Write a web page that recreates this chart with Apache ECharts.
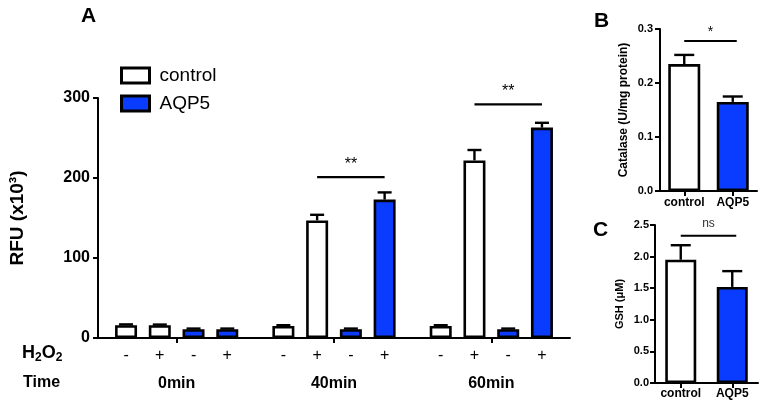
<!DOCTYPE html>
<html>
<head>
<meta charset="utf-8">
<script src="https://cdn.jsdelivr.net/npm/echarts@6/dist/echarts.min.js"></script>
<style>html,body{margin:0;padding:0;background:#fff;}#c{width:763px;height:406px;}</style>
</head>
<body>
<div id="c"></div>
<script>
// ---------- data ----------
const timeCats = ['0min', '40min', '60min'];
const h2o2Signs = ['-', '+', '-', '+'];
const ctrlMinus = [16, 15, 15];
const ctrlMinusErr = [1, 1, 1];
const ctrlPlus = [16, 147, 222];
const ctrlPlusErr = [0.8, 7, 13];
const aqpMinus = [11, 11, 11];
const aqpMinusErr = [0.8, 0.8, 0.8];
const aqpPlus = [11, 173, 263];
const aqpPlusErr = [0.8, 9, 6];
const rfuTicks = [0, 100, 200, 300];

const groupCats = ['control', 'AQP5'];
const catalase = [0.235, 0.165];
const catalaseErr = [0.017, 0.010];
const gsh = [1.95, 1.52];
const gshErr = [0.23, 0.25];

const sigA = [[1, 201, 1, 3, '**'], [2, 292, 1, 3, '**']];
const sigB = [[0, 0.278, 1, '*']];
const sigC = [[0, 2.33, 1, 'ns']];

// ---------- style ----------
const FONT = 'Liberation Sans, Arial, sans-serif';
const BLUE = '#0a3cff';
const BW_A = 22, STEP = 33.75;
const BORDER = 2.6;

const chart = echarts.init(document.getElementById('c'));

function axisCommon() {
  return {
    axisLine: {show: true, lineStyle: {color: '#000', width: 2}},
    axisTick: {show: true, length: 5, lineStyle: {color: '#000', width: 2}},
    splitLine: {show: false}
  };
}

function barSeries(name, data, color, xi, yi, bw, gap) {
  return {
    type: 'bar', name: name, data: data, xAxisIndex: xi, yAxisIndex: yi,
    barWidth: bw, barGap: gap,
    itemStyle: {color: color, borderColor: '#000', borderWidth: BORDER},
    emphasis: {disabled: true}, silent: true
  };
}

// error bar data: [cat, value, err, barIdx]
const errA = [];
[[ctrlMinus, ctrlMinusErr], [ctrlPlus, ctrlPlusErr], [aqpMinus, aqpMinusErr], [aqpPlus, aqpPlusErr]].forEach((p, bi) => {
  p[0].forEach((v, ci) => errA.push([ci, v, p[1][ci], bi]));
});
const errB = catalase.map((v, i) => [i, v, catalaseErr[i], 1.5]);
const errC = gsh.map((v, i) => [i, v, gshErr[i], 1.5]);

function errSeries(data, xi, yi, capHalf) {
  return {
    type: 'custom', xAxisIndex: xi, yAxisIndex: yi, data: data, clip: false, z: 5, silent: true,
    renderItem: function (params, api) {
      const c = api.coord([api.value(0), api.value(1)]);
      const t = api.coord([api.value(0), api.value(1) + api.value(2)]);
      const x = c[0] + (api.value(3) - 1.5) * STEP;
      const st = {stroke: '#000', lineWidth: 2.4};
      return {type: 'group', children: [
        {type: 'line', shape: {x1: x, y1: c[1], x2: x, y2: t[1]}, style: st},
        {type: 'line', shape: {x1: x - capHalf, y1: t[1], x2: x + capHalf, y2: t[1]}, style: st}
      ]};
    }
  };
}

function sigSeriesA(data) {
  return {
    type: 'custom', xAxisIndex: 0, yAxisIndex: 0, data: data.map(d => d.slice(0, 4)), clip: false, z: 6, silent: true,
    renderItem: function (params, api) {
      const c = api.coord([api.value(0), api.value(1)]);
      const x1 = c[0] + (api.value(2) - 1.5) * STEP;
      const x2 = c[0] + (api.value(3) - 1.5) * STEP;
      return {type: 'group', children: [
        {type: 'line', shape: {x1: x1, y1: c[1], x2: x2, y2: c[1]}, style: {stroke: '#000', lineWidth: 2.2}},
        {type: 'text', x: (x1 + x2) / 2, y: c[1] - 13, style: {text: data[params.dataIndex][4], font: '16px ' + FONT, fill: '#000', align: 'center', verticalAlign: 'middle'}}
      ]};
    }
  };
}
function sigSeriesBC(data, xi, yi, fs, dy, col) {
  return {
    type: 'custom', xAxisIndex: xi, yAxisIndex: yi, data: data.map(d => d.slice(0, 3)), clip: false, z: 6, silent: true,
    renderItem: function (params, api) {
      const a = api.coord([api.value(0), api.value(1)]);
      const b = api.coord([api.value(2), api.value(1)]);
      return {type: 'group', children: [
        {type: 'line', shape: {x1: a[0], y1: a[1], x2: b[0] + 4, y2: a[1]}, style: {stroke: '#000', lineWidth: 2}},
        {type: 'text', x: (a[0] + b[0]) / 2 + 2, y: a[1] - dy, style: {text: data[params.dataIndex][3], font: fs + 'px ' + FONT, fill: col, align: 'center', verticalAlign: 'middle'}}
      ]};
    }
  };
}

const option = {
  animation: false,
  textStyle: {fontFamily: FONT},
  grid: [
    {left: 93, top: 98, width: 477, height: 240},
    {left: 660, top: 29, width: 97, height: 162},
    {left: 655, top: 225, width: 103, height: 158}
  ],
  legend: {
    orient: 'vertical', left: 115, top: 61, itemGap: 9,
    itemWidth: 28, itemHeight: 15, icon: 'rect',
    data: ['control', 'AQP5'],
    itemStyle: {borderColor: '#000', borderWidth: 3},
    textStyle: {fontSize: 19, color: '#000', fontFamily: FONT, padding: [0, 0, 0, 5]},
    selectedMode: false
  },
  xAxis: [
    Object.assign(axisCommon(), {
      type: 'category', gridIndex: 0, data: timeCats,
      axisTick: {show: true, alignWithLabel: true, length: 5, lineStyle: {color: '#000', width: 2}},
      axisLabel: {
        interval: 0, margin: 4, color: '#000',
        formatter: function (v) {
          return h2o2Signs.map(s => '{s|' + s + '}').join('') + '\n{t|' + v + '}';
        },
        rich: {
          s: {width: STEP, align: 'center', fontSize: 16, lineHeight: 28, color: '#000', fontFamily: FONT},
          t: {fontSize: 16, fontWeight: 'bold', lineHeight: 28, color: '#000', fontFamily: FONT}
        }
      }
    }),
    Object.assign(axisCommon(), {
      type: 'category', gridIndex: 1, data: groupCats,
      axisTick: {show: true, alignWithLabel: true, length: 5, lineStyle: {color: '#000', width: 2}},
      axisLabel: {interval: 0, margin: 6, fontSize: 12, fontWeight: 'bold', color: '#000'}
    }),
    Object.assign(axisCommon(), {
      type: 'category', gridIndex: 2, data: groupCats,
      axisTick: {show: true, alignWithLabel: true, length: 5, lineStyle: {color: '#000', width: 2}},
      axisLabel: {interval: 0, margin: 5, fontSize: 12, fontWeight: 'bold', color: '#000'}
    })
  ],
  yAxis: [
    Object.assign(axisCommon(), {
      type: 'value', gridIndex: 0, min: rfuTicks[0], max: rfuTicks[rfuTicks.length - 1], interval: 100,
      name: 'RFU (x10³)', nameLocation: 'middle', nameGap: 71,
      nameTextStyle: {fontSize: 19, fontWeight: 'bold', color: '#000'},
      axisLabel: {margin: 8, fontSize: 16, fontWeight: 'bold', color: '#000'}
    }),
    Object.assign(axisCommon(), {
      type: 'value', gridIndex: 1, min: 0, max: 0.3, interval: 0.1,
      name: 'Catalase (U/mg protein)', nameLocation: 'middle', nameGap: 30,
      nameTextStyle: {fontSize: 12, fontWeight: 'bold', color: '#000'},
      axisLabel: {margin: 7, fontSize: 11, fontWeight: 'bold', color: '#000', formatter: v => v.toFixed(1)}
    }),
    Object.assign(axisCommon(), {
      type: 'value', gridIndex: 2, min: 0, max: 2.5, interval: 0.5,
      name: 'GSH (μM)', nameLocation: 'middle', nameGap: 30,
      nameTextStyle: {fontSize: 11, fontWeight: 'bold', color: '#000'},
      axisLabel: {margin: 6, fontSize: 11, fontWeight: 'bold', color: '#000', formatter: v => v.toFixed(1)}
    })
  ],
  series: [
    barSeries('control', ctrlMinus, '#fff', 0, 0, BW_A, ((STEP - BW_A) / BW_A * 100).toFixed(1) + '%'),
    barSeries('control', ctrlPlus, '#fff', 0, 0, BW_A, ((STEP - BW_A) / BW_A * 100).toFixed(1) + '%'),
    barSeries('AQP5', aqpMinus, BLUE, 0, 0, BW_A, ((STEP - BW_A) / BW_A * 100).toFixed(1) + '%'),
    barSeries('AQP5', aqpPlus, BLUE, 0, 0, BW_A, ((STEP - BW_A) / BW_A * 100).toFixed(1) + '%'),
    {
      type: 'bar', xAxisIndex: 1, yAxisIndex: 1, barWidth: 32, silent: true,
      data: catalase.map((v, i) => ({value: v, itemStyle: {color: i === 0 ? '#fff' : BLUE}})),
      itemStyle: {borderColor: '#000', borderWidth: BORDER}
    },
    {
      type: 'bar', xAxisIndex: 2, yAxisIndex: 2, barWidth: 31, silent: true,
      data: gsh.map((v, i) => ({value: v, itemStyle: {color: i === 0 ? '#fff' : BLUE}})),
      itemStyle: {borderColor: '#000', borderWidth: BORDER}
    },
    errSeries(errA, 0, 0, 7),
    errSeries(errB, 1, 1, 10),
    errSeries(errC, 2, 2, 10),
    sigSeriesA(sigA),
    sigSeriesBC(sigB, 1, 1, 14, 9, '#000'),
    sigSeriesBC(sigC, 2, 2, 12, 12, '#333')
  ],
  graphic: [
    {type: 'text', left: 81, top: 6, style: {text: 'A', font: 'bold 21px ' + FONT, fill: '#000'}},
    {type: 'text', left: 594, top: 11, style: {text: 'B', font: 'bold 21px ' + FONT, fill: '#000'}},
    {type: 'text', left: 593, top: 220, style: {text: 'C', font: 'bold 21px ' + FONT, fill: '#000'}},
    {type: 'text', left: 22, top: 342, style: {
      text: '{m|H}{b|2}{m|O}{b|2}',
      rich: {
        m: {fontSize: 18, fontWeight: 'bold', lineHeight: 24, fill: '#000', fontFamily: FONT},
        b: {fontSize: 12, fontWeight: 'bold', lineHeight: 24, padding: [10, 0, 0, 0], fill: '#000', fontFamily: FONT}
      }
    }},
    {type: 'text', left: 23, top: 375, style: {text: 'Time', font: 'bold 16px ' + FONT, fill: '#000'}}
  ]
};
chart.setOption(option);
</script>
</body>
</html>
